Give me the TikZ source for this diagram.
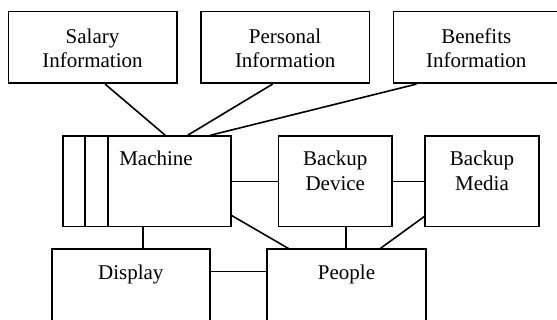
\documentclass[tikz,border=0pt]{standalone}
\usepackage{fontspec}
\setmainfont{Liberation Serif}
\usetikzlibrary{calc}
\begin{document}
\begin{tikzpicture}[x=1pt,y=-1pt,
  box/.style={draw, line width=1.6pt, rectangle, inner sep=0pt},
  lbl/.style={font=\fontsize{21}{24.5}\selectfont, align=center, inner sep=0pt, anchor=base},
  conn/.style={line width=1.6pt}]
\useasboundingbox (0,0) rectangle (557,320);
\clip (0,0) rectangle (557,320);
% top row
\node[box, minimum width=168.4pt, minimum height=71.6pt] (sal) at (92.5,47.5) {};
\node[box, minimum width=168.7pt, minimum height=71.6pt] (per) at (285.15,47.5) {};
\node[box, minimum width=168.4pt, minimum height=71.6pt] (ben) at (477.5,47.5) {};
% middle row
\node[box, minimum width=168.3pt, minimum height=90.7pt] (mac) at (146.85,181.35) {};
\node[box, minimum width=113.5pt, minimum height=90.7pt] (dev) at (335.25,181.35) {};
\node[box, minimum width=114pt, minimum height=90.7pt] (med) at (482,181.35) {};
% bottom row
\node[box, minimum width=158.3pt, minimum height=90.7pt] (dis) at (130.85,294.65) {};
\node[box, minimum width=158.9pt, minimum height=90.7pt] (peo) at (346.25,294.65) {};
% labels (base = baseline of the last line)
\node[lbl] (tsal) at (92.5,67.7) {Salary\\Information};
\node[lbl] (tper) at (285.15,67.7) {Personal\\Information};
\node[lbl] (tben) at (476.3,67.7) {Benefits\\Information};
\node[lbl] (tmac) at (156,166) {Machine};
\node[lbl] (tdev) at (335.25,190.5) {Backup\\Device};
\node[lbl] (tmed) at (482,190.5) {Backup\\Media};
\node[lbl] (tdis) at (130.8,280) {Display};
\node[lbl] (tpeo) at (346.5,280) {People};
% machine side stripes
\draw[conn] ($(mac.north west)!0.1367!(mac.north east)$) -- ($(mac.south west)!0.1367!(mac.south east)$);
\draw[conn] ($(mac.north west)!0.271!(mac.north east)$) -- ($(mac.south west)!0.271!(mac.south east)$);
% connectors
\draw[conn] ($(sal.south west)!0.574!(sal.south east)$) -- ($(mac.north west)!0.608!(mac.north east)$);
\draw[conn] ($(per.south west)!0.426!(per.south east)$) -- ($(mac.north west)!0.741!(mac.north east)$);
\draw[conn] ($(ben.south west)!0.141!(ben.south east)$) -- ($(mac.north west)!0.875!(mac.north east)$);
\draw[conn] (mac.east) -- (dev.west);
\draw[conn] (dev.east) -- (med.west);
\draw[conn] ($(mac.north east)!0.871!(mac.south east)$) -- ($(peo.north west)!0.14!(peo.north east)$);
\draw[conn] (peo.north) -- (peo.north |- dev.south);
\draw[conn] ($(med.north west)!0.882!(med.south west)$) -- ($(peo.north west)!0.712!(peo.north east)$);
\coordinate (dtop) at ($(dis.north west)!0.575!(dis.north east)$);
\draw[conn] (dtop) -- (dtop |- mac.south);
\coordinate (dside) at ($(dis.north east)+(0,23)$);
\draw[conn] (dside) -- (dside -| peo.west);
\end{tikzpicture}
\end{document}
